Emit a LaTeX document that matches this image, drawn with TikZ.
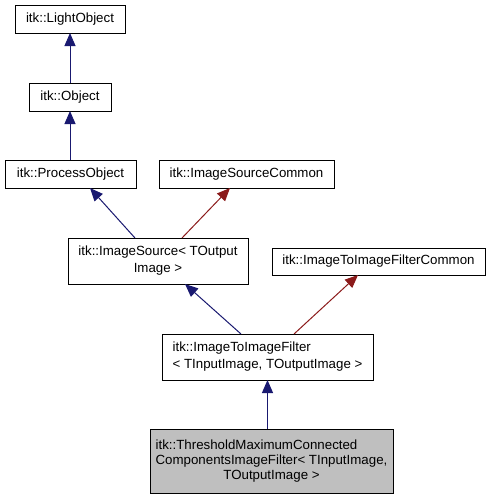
\documentclass[tikz,border=0pt]{standalone}
\usepackage{fontspec}
\setmainfont{Liberation Sans}
\usetikzlibrary{arrows.meta}
\definecolor{edgeblue}{HTML}{191970}
\definecolor{edgered}{HTML}{8B1A1A}
\definecolor{curcell}{HTML}{BFBFBF}
\tikzset{
  classbox/.style={draw, line width=1pt, inner sep=0pt, outer sep=0pt,
                   font=\fontsize{13.3}{17}\selectfont, align=center},
  curbox/.style={classbox, fill=curcell},
  inherit/.style={edgeblue, line width=1pt,
                  -{Triangle[length=13pt, width=11pt]}},
  usage/.style={edgered, line width=1pt,
                -{Triangle[length=13pt, width=11pt]}},
}
\begin{document}
\begin{tikzpicture}[x=1pt, y=-1pt]
    \useasboundingbox (0,0) rectangle (491,499);
    \node[classbox, minimum width=110pt, minimum height=28pt] (light) at (70, 19) {itk::LightObject};
    \node[classbox, minimum width=82pt, minimum height=28pt] (object) at (70, 97) {itk::Object};
    \node[classbox, minimum width=131pt, minimum height=28pt] (process) at (70.5, 174) {itk::ProcessObject};
    \node[classbox, minimum width=175pt, minimum height=28pt] (srccommon) at (246.5, 174) {itk::ImageSourceCommon};
    \node[classbox, minimum width=180pt, minimum height=46pt] (imgsource) at (158, 261) {itk::ImageSource\textless{} TOutput\\Image \textgreater};
    \node[classbox, minimum width=213pt, minimum height=27pt] (filtcommon) at (378.5, 261.5) {itk::ImageToImageFilterCommon};
    \node[classbox, minimum width=211pt, minimum height=46pt, align=left] (filter) at (267.5, 357) {itk::ImageToImageFilter\\\textless{} TInputImage, TOutputImage \textgreater};
    \node[curbox, minimum width=243pt, minimum height=64pt] (thresh) at (271.5, 461) {%
      \begin{tabular}{@{}l@{}}
        itk::ThresholdMaximumConnected\\[-2pt]
        ComponentsImageFilter\textless{} TInputImage,\\[-2pt]
        \multicolumn{1}{@{}c@{}}{TOutputImage \textgreater}
      \end{tabular}};
    \draw[inherit] (object) -- (light);
    \draw[inherit] (process.north -| object) -- (object);
    \draw[inherit] ([xshift=-23pt]imgsource.north) -- ([xshift=19.5pt]process.south);
    \draw[usage] ([xshift=24pt]imgsource.north) -- ([xshift=-16.5pt]srccommon.south);
    \draw[inherit] ([xshift=-26.5pt]filter.north) -- ([xshift=27pt]imgsource.south);
    \draw[usage] ([xshift=26.5pt]filter.north) -- ([xshift=-20.5pt]filtcommon.south);
    \draw[inherit] (thresh.north -| filter) -- (filter);
  \end{tikzpicture}
\end{document}
